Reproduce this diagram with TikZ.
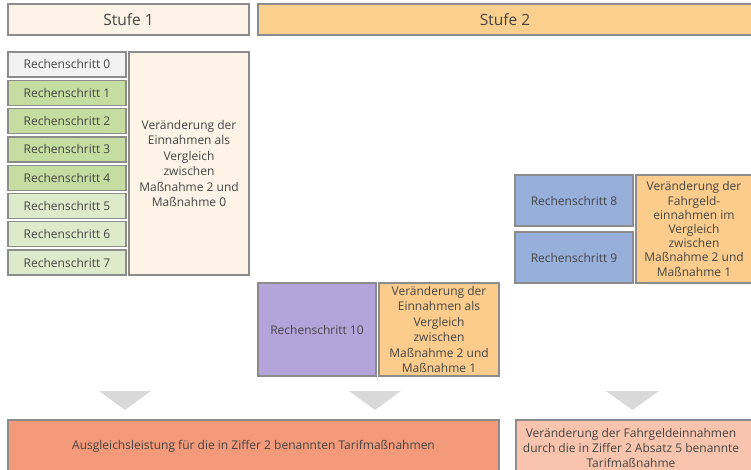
\documentclass[tikz,border=0pt]{standalone}
\usepackage{fontspec}
\setmainfont{Open Sans}
\definecolor{bordergray}{HTML}{8C8C8C}
\definecolor{txt}{HTML}{454545}
\definecolor{cream}{HTML}{FDF3E6}
\definecolor{stufezwei}{HTML}{FBCF8E}
\definecolor{rzero}{HTML}{F2F2F2}
\definecolor{gdark}{HTML}{C5DDA0}
\definecolor{glight}{HTML}{DEEBCB}
\definecolor{blue8}{HTML}{97B0DB}
\definecolor{violet}{HTML}{B3A5DA}
\definecolor{orangebox}{HTML}{FCCC8D}
\definecolor{salmon}{HTML}{F29A7A}
\definecolor{peach}{HTML}{F8C4AE}
\definecolor{trigray}{HTML}{D9D9D9}
\tikzset{
  box/.style={draw=bordergray, line width=1.3pt, text=txt, inner sep=1pt, outer sep=0pt,
    anchor=north west, align=center, font=\fontsize{12}{15.5}\selectfont},
  stepbox/.style={box, minimum width=118pt, minimum height=25pt},
  headbox/.style={box, minimum height=31pt, font=\fontsize{15.5}{18}\selectfont},
  arrowtri/.style={fill=trigray, draw=none},
}
\begin{document}
\begin{tikzpicture}[x=1pt,y=-1pt]
\useasboundingbox (0,0) rectangle (751,470);
\begin{scope}
\clip (0,0) rectangle (751,470);
% headers
\node[headbox, fill=cream, minimum width=241pt] (s1) at (8,4) {Stufe 1};
\node[headbox, fill=stufezwei, minimum width=500pt] (s2) at (258,4) {\hspace*{-6pt}Stufe 2\hspace*{0pt}};
% stage 1 steps
\node[stepbox, fill=rzero] (r0) at (8,52) {Rechenschritt 0};
\node[stepbox, fill=gdark] (r1) at (8,80.3) {Rechenschritt 1};
\node[stepbox, fill=gdark] (r2) at (8,108.6) {Rechenschritt 2};
\node[stepbox, fill=gdark] (r3) at (8,136.9) {Rechenschritt 3};
\node[stepbox, fill=gdark] (r4) at (8,165.2) {Rechenschritt 4};
\node[stepbox, fill=glight] (r5) at (8,193.5) {Rechenschritt 5};
\node[stepbox, fill=glight] (r6) at (8,221.8) {Rechenschritt 6};
\node[stepbox, fill=glight] (r7) at (8,250.1) {Rechenschritt 7};
\node[box, fill=cream, minimum width=120pt, minimum height=223pt] (e0) at (129,52)
  {Veränderung der\\Einnahmen als\\Vergleich\\zwischen\\Maßnahme 2 und\\Maßnahme 0};
% step 10
\node[box, fill=violet, minimum width=118pt, minimum height=93pt] (r10) at (258,283) {Rechenschritt 10};
\node[box, fill=orangebox, minimum width=120pt, minimum height=93pt] (e1) at (379,283)
  {Veränderung der\\Einnahmen als\\Vergleich\\zwischen\\Maßnahme 2 und\\Maßnahme 1};
% steps 8, 9
\node[stepbox, fill=blue8, minimum height=51pt] (r8) at (515,175) {Rechenschritt 8};
\node[stepbox, fill=blue8, minimum height=51pt] (r9) at (515,232) {Rechenschritt 9};
\node[box, fill=orangebox, minimum width=116pt, minimum height=108pt, font=\fontsize{12}{14.2}\selectfont] (f1) at (636,175)
  {Veränderung der\\Fahrgeld-\\einnahmen im\\Vergleich\\zwischen\\Maßnahme 2 und\\Maßnahme 1};
% triangles
\fill[arrowtri] (99,391) -- (151,391) -- (125,410) -- cycle;
\fill[arrowtri] (349,391) -- (401,391) -- (375,410) -- cycle;
\fill[arrowtri] (606,391) -- (659,391) -- (632.5,410) -- cycle;
% results
\node[box, fill=salmon, minimum width=491pt, minimum height=52pt] (res) at (8,420)
  {Ausgleichsleistung für die in Ziffer 2 benannten Tarifmaßnahmen};
\node[box, fill=peach, minimum width=240pt, minimum height=55pt, inner sep=1pt, font=\fontsize{12}{15}\selectfont] (res2) at (516,420)
  {\hspace*{-5pt}\parbox{232pt}{\centering Veränderung der Fahrgeldeinnahmen\\durch die in Ziffer 2 Absatz 5 benannte\\Tarifmaßnahme}\hspace*{5pt}};
\end{scope}
\end{tikzpicture}
\end{document}
